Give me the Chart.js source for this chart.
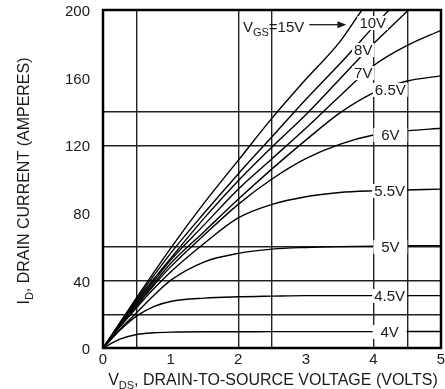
<!DOCTYPE html>
<html>
<head>
<meta charset="utf-8">
<script src="https://cdn.jsdelivr.net/npm/chart.js@4.4.1/dist/chart.umd.min.js"></script>
<style>
  html, body { margin: 0; padding: 0; background: #fff; }
</style>
</head>
<body>
<canvas id="idsChart" width="445" height="389"></canvas>
<script>
// drain current (A) vs drain-source voltage (V), one curve per gate voltage
const vgsNames = ['15V', '10V', '8V', '7V', '6.5V', '6V', '5.5V', '5V', '4.5V', '4V'];

const vds15 = [0, 0.25, 0.5, 1, 1.5, 2, 2.5, 3, 3.5, 3.83];
const id15  = [0, 15, 30, 59, 86, 111, 136, 159, 181, 200];

const vds10 = [0, 0.25, 0.5, 1, 1.5, 2, 2.5, 3, 3.5, 4, 4.23];
const id10  = [0, 14.5, 29, 56, 80, 103, 125, 147, 168, 190, 200];

const vds8 = [0, 0.25, 0.5, 1, 1.5, 2, 2.5, 3, 3.5, 4, 4.52];
const id8  = [0, 14, 28, 53, 77, 99, 119, 138, 159, 180, 200];

const vds   = [0, 0.25, 0.5, 0.75, 1, 1.5, 2, 2.5, 3, 3.5, 4, 4.5, 5];
const id7   = [0, 14, 27, 39.5, 52, 73, 94, 112, 130, 149, 167, 179, 188];
const id6_5 = [0, 13.5, 26, 38, 50, 69, 88, 106, 123, 139, 151, 158, 161];
const id6   = [0, 13, 25, 37, 48, 67, 85, 100, 112, 120.5, 126, 128.5, 130];
const id5_5 = [0, 12.5, 24, 35, 45, 62, 77, 85, 89.5, 92, 93, 93.5, 94];
const id5   = [0, 11, 21, 31, 40, 51, 56, 58.5, 59.5, 60, 60.3, 60.5, 60.6];
const id4_5 = [0, 10.5, 19, 24.5, 27.5, 29.5, 30.3, 30.7, 31, 31, 31, 31, 31];
const id4   = [0, 5.2, 8, 9, 9.4, 9.6, 9.6, 9.7, 9.7, 9.7, 9.7, 9.8, 9.8];

const xTicks = [0, 1, 2, 3, 4, 5];
const yTicks = [0, 40, 80, 120, 160, 200];
const xGridAt = [0.5, 2, 2.5, 4, 4.5];
const yGridAt = [20, 40, 60, 120, 140];

const curves = [
  [vds15, id15], [vds10, id10], [vds8, id8], [vds, id7], [vds, id6_5],
  [vds, id6], [vds, id5_5], [vds, id5], [vds, id4_5], [vds, id4]
];

// curve tags sit on the curves, on a white box
const tags = [
  { text: '10V',  v: 3.99, i: 192.3, w: 0 },
  { text: '8V',   v: 3.85, i: 176.3, w: 0 },
  { text: '7V',   v: 3.85, i: 162.7, w: 0 },
  { text: '6.5V', v: 4.25, i: 152.7, w: 34 },
  { text: '6V',   v: 4.25, i: 126.0, w: 34 },
  { text: '5.5V', v: 4.24, i: 92.9,  w: 34 },
  { text: '5V',   v: 4.25, i: 59.8,  w: 34 },
  { text: '4.5V', v: 4.24, i: 30.8,  w: 34 },
  { text: '4V',   v: 4.24, i: 9.5,   w: 34 }
];

const FONT = '"Liberation Sans", Arial, Helvetica, sans-serif';
const INK = '#1a1a1a';

function mergeTicks(a, b) {
  return [...new Set([...a, ...b])].sort((p, q) => p - q).map(v => ({ value: v }));
}

// draws runs of text with subscripts, left to right from (x, y)
function drawRuns(ctx, runs, x, y) {
  let cx = x;
  for (const r of runs) {
    ctx.font = (r.sub ? '11px ' : r.size + 'px ') + FONT;
    ctx.fillText(r.t, cx, y + (r.sub ? 4 : 0));
    cx += ctx.measureText(r.t).width;
  }
  return cx;
}
function runsWidth(ctx, runs) {
  let w = 0;
  for (const r of runs) {
    ctx.font = (r.sub ? '11px ' : r.size + 'px ') + FONT;
    w += ctx.measureText(r.t).width;
  }
  return w;
}

const overlay = {
  id: 'overlay',
  afterDatasetsDraw(chart) {
    const { ctx, chartArea: a, scales: { x, y } } = chart;
    ctx.save();
    ctx.textBaseline = 'middle';
    ctx.textAlign = 'center';
    ctx.font = '15px ' + FONT;
    for (const t of tags) {
      const px = x.getPixelForValue(t.v);
      const py = y.getPixelForValue(t.i);
      const tw = ctx.measureText(t.text).width;
      const bw = Math.max(tw + 4, t.w);
      ctx.fillStyle = '#fff';
      ctx.fillRect(px - bw / 2, py - 7, bw, 14);
      ctx.fillStyle = INK;
      ctx.fillText(t.text, px, py + 0.5);
    }

    // V_GS = 15V callout with arrow
    ctx.textAlign = 'left';
    ctx.textBaseline = 'alphabetic';
    ctx.fillStyle = INK;
    const lx = x.getPixelForValue(2.07);
    const ly = y.getPixelForValue(187.2);
    const endX = drawRuns(ctx, [
      { t: 'V', size: 15 }, { t: 'GS', sub: true }, { t: '=15V', size: 15 }
    ], lx, ly);
    const tipX = x.getPixelForValue(3.6);
    const tipY = y.getPixelForValue(191.3);
    ctx.strokeStyle = INK;
    ctx.lineWidth = 1.3;
    ctx.beginPath();
    ctx.moveTo(endX + 5, tipY);
    ctx.lineTo(tipX - 6, tipY);
    ctx.stroke();
    ctx.beginPath();
    ctx.moveTo(tipX, tipY);
    ctx.lineTo(tipX - 9, tipY - 3.5);
    ctx.lineTo(tipX - 9, tipY + 3.5);
    ctx.closePath();
    ctx.fill();

    // plot frame
    ctx.strokeStyle = '#000';
    ctx.lineWidth = 2.5;
    ctx.strokeRect(a.left, a.top, a.right - a.left, a.bottom - a.top);

    // tick labels, placed from the scales
    ctx.font = '15px ' + FONT;
    ctx.textAlign = 'right';
    ctx.textBaseline = 'middle';
    for (const v of yTicks) ctx.fillText(String(v), a.left - 13, y.getPixelForValue(v) + 2);
    ctx.textAlign = 'center';
    ctx.textBaseline = 'top';
    for (const v of xTicks) ctx.fillText(String(v), x.getPixelForValue(v), a.bottom + 4);

    // axis titles
    ctx.textAlign = 'left';
    ctx.textBaseline = 'alphabetic';
    const xRuns = [
      { t: 'V', size: 16 }, { t: 'DS', sub: true },
      { t: ', DRAIN-TO-SOURCE VOLTAGE (VOLTS)', size: 16 }
    ];
    const xw = runsWidth(ctx, xRuns);
    drawRuns(ctx, xRuns, (a.left + a.right) / 2 - xw / 2 + 1, 385);

    const yRuns = [
      { t: 'I', size: 16 }, { t: 'D', sub: true },
      { t: ', DRAIN CURRENT (AMPERES)', size: 16 }
    ];
    const yw = runsWidth(ctx, yRuns);
    ctx.translate(29, 181);
    ctx.rotate(-Math.PI / 2);
    drawRuns(ctx, yRuns, -yw / 2, 0);
    ctx.restore();
  }
};

new Chart(document.getElementById('idsChart'), {
  type: 'line',
  data: {
    datasets: curves.map((c, k) => ({
      label: vgsNames[k],
      data: c[0].map((v, j) => ({ x: v, y: c[1][j] })),
      borderColor: '#000',
      borderWidth: 1.4,
      pointRadius: 0,
      fill: false,
      cubicInterpolationMode: 'monotone'
    }))
  },
  options: {
    responsive: false,
    animation: false,
    devicePixelRatio: 1,
    layout: { padding: { left: 0, top: 10, right: 4, bottom: 0 } },
    plugins: { legend: { display: false }, tooltip: { enabled: false } },
    scales: {
      x: {
        type: 'linear', min: 0, max: 5,
        afterBuildTicks: s => { s.ticks = mergeTicks(xTicks, xGridAt); },
        afterFit: s => { s.height = 41; },
        border: { display: false },
        grid: {
          drawTicks: false,
          lineWidth: 1.4,
          color: c => xGridAt.includes(c.tick.value) ? '#222' : 'rgba(0,0,0,0)'
        },
        ticks: { display: false }
      },
      y: {
        type: 'linear', min: 0, max: 200,
        afterBuildTicks: s => { s.ticks = mergeTicks(yTicks, yGridAt); },
        afterFit: s => { s.width = 103; },
        border: { display: false },
        grid: {
          drawTicks: false,
          lineWidth: 1.4,
          color: c => yGridAt.includes(c.tick.value) ? '#222' : 'rgba(0,0,0,0)'
        },
        ticks: { display: false }
      }
    }
  },
  plugins: [overlay]
});
</script>
</body>
</html>
